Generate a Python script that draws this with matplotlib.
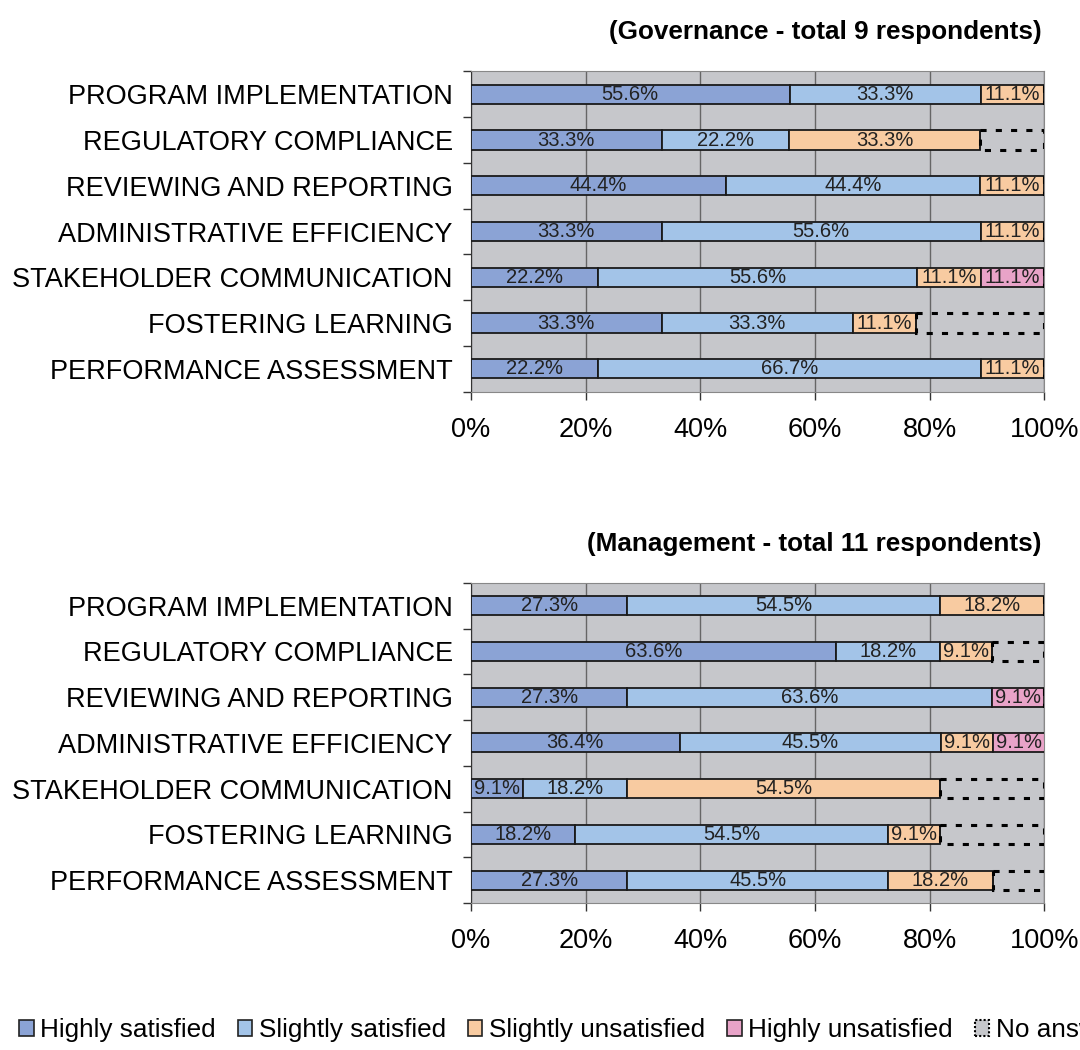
import numpy as np
import matplotlib
matplotlib.use("Agg")
import matplotlib.pyplot as plt
from matplotlib.patches import Patch

plt.rcParams['font.family'] = ['Liberation Sans', 'DejaVu Sans']

categories = ["PROGRAM IMPLEMENTATION", "REGULATORY COMPLIANCE", "REVIEWING AND REPORTING",
              "ADMINISTRATIVE EFFICIENCY", "STAKEHOLDER COMMUNICATION", "FOSTERING LEARNING",
              "PERFORMANCE ASSESSMENT"]
series = ["Highly satisfied", "Slightly satisfied", "Slightly unsatisfied",
          "Highly unsatisfied", "No answer"]

# governance, 9 respondents (percent per category)
gov_highly_sat = [55.6, 33.3, 44.4, 33.3, 22.2, 33.3, 22.2]
gov_slightly_sat = [33.3, 22.2, 44.4, 55.6, 55.6, 33.3, 66.7]
gov_slightly_unsat = [11.1, 33.3, 11.1, 11.1, 11.1, 11.1, 11.1]
gov_highly_unsat = [0, 0, 0, 0, 11.1, 0, 0]
gov_no_answer = [0, 11.1, 0, 0, 0, 22.2, 0]

# management, 11 respondents
man_highly_sat = [27.3, 63.6, 27.3, 36.4, 9.1, 18.2, 27.3]
man_slightly_sat = [54.5, 18.2, 63.6, 45.5, 18.2, 54.5, 45.5]
man_slightly_unsat = [18.2, 9.1, 0, 9.1, 54.5, 9.1, 18.2]
man_highly_unsat = [0, 0, 9.1, 9.1, 0, 0, 0]
man_no_answer = [0, 9.1, 0, 0, 18.2, 18.2, 9.1]

titles = ["(Governance - total 9 respondents)", "(Management - total 11 respondents)"]
colors = ["#8BA3D5", "#A3C4E8", "#F8CBA1", "#E8A3C8"]
bg = "#C6C7CB"


def draw(ax, data, title):
    y = np.arange(len(categories))
    left = np.zeros(len(categories))
    for vals, col in zip(data[:4], colors):
        vals = np.array(vals, dtype=float)
        bars = ax.barh(y, vals, left=left, height=0.42, color=col,
                       edgecolor="#1a1a1a", linewidth=1.3, zorder=3)
        for b, v in zip(bars, vals):
            if v > 0:
                ax.text(b.get_x() + b.get_width() / 2, b.get_y() + b.get_height() / 2,
                        f"{v:.1f}%", ha="center", va="center", fontsize=14.5,
                        color="#222222", zorder=4)
        left += vals
    na = np.array(data[4], dtype=float)
    ax.barh(y, na, left=left, height=0.42, facecolor="none", edgecolor="black",
            linewidth=2.2, linestyle=(0, (2, 3)), zorder=3)

    ax.set_xlim(0, 100)
    ax.set_ylim(len(categories) - 0.5, -0.5)
    ax.set_facecolor(bg)
    ax.set_xticks([0, 20, 40, 60, 80, 100])
    ax.set_xticklabels(["0%", "20%", "40%", "60%", "80%", "100%"], fontsize=19.5)
    ax.xaxis.grid(True, color="#666666", linewidth=1, zorder=0)
    ax.set_axisbelow(True)
    ax.set_yticks(y)
    ax.set_yticklabels(categories, fontsize=19.5)
    ax.tick_params(axis="y", length=0, pad=13)
    ax.set_yticks(np.arange(len(categories) + 1) - 0.5, minor=True)
    ax.tick_params(axis="y", which="minor", length=6, width=1, color="#333333")
    ax.tick_params(axis="x", length=6, width=1, color="#333333", pad=12)
    for s in ["top", "right"]:
        ax.spines[s].set_color("#888888")
    ax.spines["left"].set_color("#333333")
    ax.spines["bottom"].set_color("#888888")
    ax.set_title(title, loc="right", fontsize=18.8, fontweight="bold", pad=23, x=0.995)


fig = plt.figure(figsize=(10.8, 10.5), dpi=100)
ax1 = fig.add_axes([0.436, 0.627, 0.531, 0.305])
ax2 = fig.add_axes([0.436, 0.140, 0.531, 0.305])
draw(ax1, [gov_highly_sat, gov_slightly_sat, gov_slightly_unsat, gov_highly_unsat, gov_no_answer], titles[0])
draw(ax2, [man_highly_sat, man_slightly_sat, man_slightly_unsat, man_highly_unsat, man_no_answer], titles[1])

# legend runs off the right edge, as in the original figure
handles = [Patch(facecolor=c, edgecolor="#222222", linewidth=1.2) for c in colors]
handles.append(Patch(facecolor=bg, edgecolor="black", linewidth=1.5, linestyle=(0, (1, 1))))
fig.legend(handles, series, loc="lower left", bbox_to_anchor=(-0.004, -0.015), ncol=5,
           frameon=False, fontsize=18.8, handlelength=0.55, handleheight=0.6,
           handletextpad=0.25, columnspacing=0.85)

fig.savefig("out.png", dpi=100)
